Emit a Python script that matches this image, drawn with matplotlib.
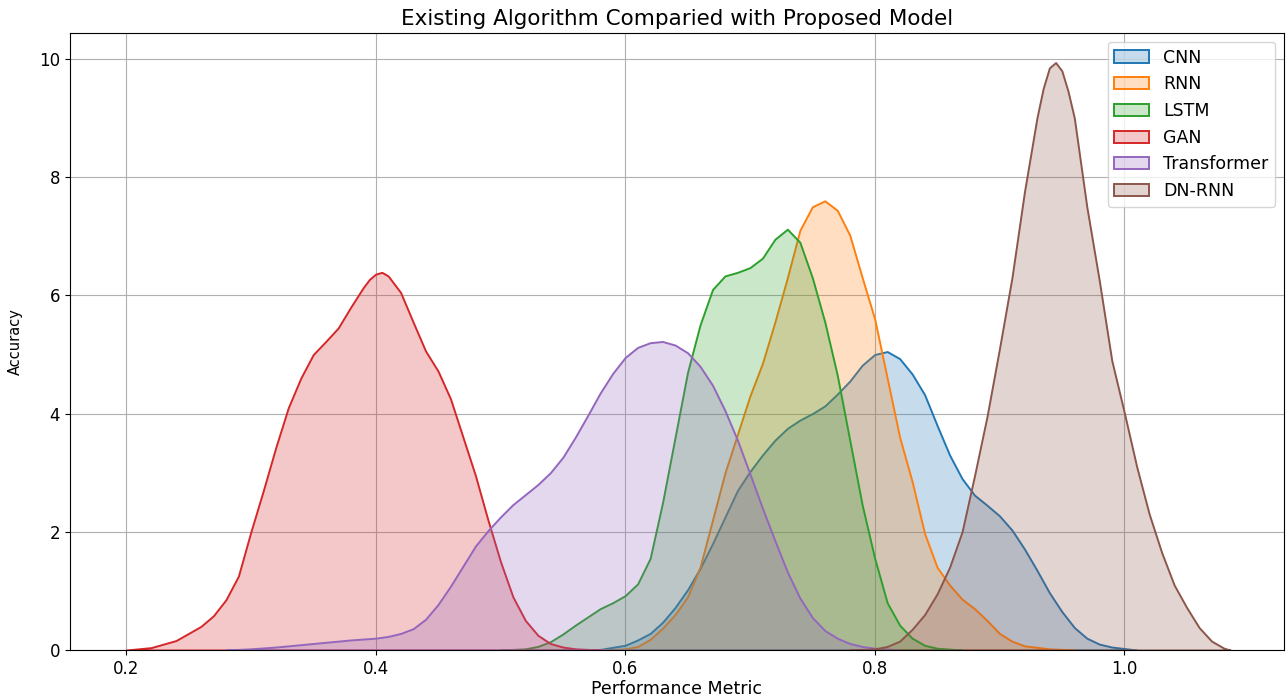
import matplotlib
matplotlib.use('Agg')
import matplotlib.pyplot as plt
from matplotlib.colors import to_rgba

# density curves (x = performance metric, y = density)
cnn_x = [0.56, 0.58, 0.60, 0.61, 0.62, 0.63, 0.64, 0.65, 0.66, 0.67, 0.68, 0.69, 0.70, 0.71, 0.72, 0.73,
         0.74, 0.75, 0.76, 0.77, 0.78, 0.79, 0.80, 0.81, 0.82, 0.83, 0.84, 0.85, 0.86, 0.87, 0.88, 0.89,
         0.90, 0.91, 0.92, 0.93, 0.94, 0.95, 0.96, 0.97, 0.98, 0.99, 1.01]
cnn_y = [0.0, 0.01, 0.08, 0.17, 0.28, 0.47, 0.72, 1.02, 1.38, 1.8, 2.25, 2.7, 3.02, 3.3, 3.55, 3.75,
         3.89, 4.0, 4.13, 4.33, 4.55, 4.82, 5.0, 5.05, 4.93, 4.67, 4.32, 3.8, 3.3, 2.9, 2.62, 2.45,
         2.27, 2.03, 1.71, 1.35, 0.97, 0.65, 0.38, 0.2, 0.1, 0.05, 0.0]

rnn_x = [0.58, 0.60, 0.61, 0.62, 0.63, 0.64, 0.65, 0.66, 0.67, 0.68, 0.69, 0.70, 0.71, 0.72, 0.73, 0.74,
         0.75, 0.76, 0.77, 0.78, 0.79, 0.80, 0.81, 0.82, 0.83, 0.84, 0.85, 0.86, 0.87, 0.88, 0.89, 0.90,
         0.91, 0.92, 0.94, 0.96]
rnn_y = [0.0, 0.02, 0.06, 0.18, 0.37, 0.6, 0.9, 1.4, 2.2, 3.0, 3.65, 4.3, 4.85, 5.55, 6.3, 7.1,
         7.5, 7.6, 7.44, 7.02, 6.3, 5.6, 4.6, 3.6, 2.85, 1.97, 1.4, 1.1, 0.86, 0.7, 0.5, 0.28,
         0.15, 0.07, 0.02, 0.0]

lstm_x = [0.50, 0.52, 0.53, 0.54, 0.55, 0.56, 0.57, 0.58, 0.59, 0.60, 0.61, 0.62, 0.63, 0.64, 0.65, 0.66,
          0.67, 0.68, 0.69, 0.70, 0.71, 0.72, 0.73, 0.74, 0.75, 0.76, 0.77, 0.78, 0.79, 0.80, 0.81, 0.82,
          0.83, 0.84, 0.85, 0.87]
lstm_y = [0.0, 0.02, 0.06, 0.14, 0.27, 0.42, 0.56, 0.7, 0.8, 0.92, 1.12, 1.55, 2.5, 3.6, 4.7, 5.5,
          6.1, 6.33, 6.39, 6.47, 6.63, 6.95, 7.12, 6.9, 6.3, 5.55, 4.65, 3.55, 2.45, 1.55, 0.8, 0.42,
          0.2, 0.08, 0.03, 0.0]

gan_x = [0.20, 0.22, 0.24, 0.26, 0.27, 0.28, 0.29, 0.30, 0.31, 0.32, 0.33, 0.34, 0.35, 0.36, 0.37, 0.38,
         0.39, 0.395, 0.40, 0.405, 0.41, 0.42, 0.43, 0.44, 0.45, 0.46, 0.47, 0.48, 0.49, 0.50, 0.51, 0.52,
         0.53, 0.54, 0.55, 0.56, 0.58]
gan_y = [0.0, 0.04, 0.16, 0.40, 0.58, 0.85, 1.25, 2.0, 2.7, 3.43, 4.1, 4.6, 5.0, 5.22, 5.45, 5.8,
         6.13, 6.27, 6.36, 6.39, 6.33, 6.05, 5.55, 5.06, 4.72, 4.25, 3.6, 2.95, 2.2, 1.5, 0.9, 0.5,
         0.25, 0.11, 0.05, 0.02, 0.0]

transformer_x = [0.28, 0.30, 0.32, 0.34, 0.36, 0.38, 0.40, 0.41, 0.42, 0.43, 0.44, 0.45, 0.46, 0.47, 0.48,
                 0.49, 0.50, 0.51, 0.52, 0.53, 0.54, 0.55, 0.56, 0.57, 0.58, 0.59, 0.60, 0.61, 0.62, 0.63,
                 0.64, 0.65, 0.66, 0.67, 0.68, 0.69, 0.70, 0.71, 0.72, 0.73, 0.74, 0.75, 0.76, 0.77, 0.78,
                 0.79, 0.80, 0.82]
transformer_y = [0.0, 0.02, 0.05, 0.09, 0.13, 0.17, 0.2, 0.23, 0.28, 0.36, 0.52, 0.77, 1.08, 1.42, 1.76,
                 2.02, 2.25, 2.46, 2.63, 2.8, 3.0, 3.26, 3.6, 3.97, 4.35, 4.68, 4.95, 5.12, 5.2, 5.22,
                 5.16, 5.03, 4.8, 4.48, 4.05, 3.55, 2.98, 2.4, 1.85, 1.32, 0.88, 0.55, 0.33, 0.2, 0.11,
                 0.06, 0.03, 0.0]

dnrnn_x = [0.78, 0.80, 0.81, 0.82, 0.83, 0.84, 0.85, 0.86, 0.87, 0.88, 0.89, 0.90, 0.91, 0.92, 0.93, 0.935,
           0.94, 0.945, 0.95, 0.955, 0.96, 0.97, 0.98, 0.99, 1.00, 1.01, 1.02, 1.03, 1.04, 1.05, 1.06, 1.07,
           1.08, 1.085]
dnrnn_y = [0.0, 0.02, 0.06, 0.15, 0.35, 0.6, 0.95, 1.4, 2.0, 2.95, 3.95, 5.1, 6.3, 7.75, 9.0, 9.5,
           9.85, 9.94, 9.8, 9.45, 9.0, 7.5, 6.25, 4.9, 4.02, 3.1, 2.3, 1.65, 1.1, 0.72, 0.38, 0.15,
           0.03, 0.0]

labels = ['CNN', 'RNN', 'LSTM', 'GAN', 'Transformer', 'DN-RNN']
xs = [cnn_x, rnn_x, lstm_x, gan_x, transformer_x, dnrnn_x]
ys = [cnn_y, rnn_y, lstm_y, gan_y, transformer_y, dnrnn_y]
colors = ['#1f77b4', '#ff7f0e', '#2ca02c', '#d62728', '#9467bd', '#8c564b']


def main():
    fig = plt.figure(figsize=(12.86, 6.96), dpi=100)
    ax = fig.add_axes([0.0544, 0.0661, 0.944, 0.8865])

    for x, y, c, name in zip(xs, ys, colors, labels):
        ax.fill_between(x, y, 0, facecolor=to_rgba(c, 0.25), edgecolor=c,
                        linewidth=1.4, joinstyle='round', label=name)

    ax.set_xlim(0.155, 1.128)
    ax.set_ylim(0, 10.44)
    ax.set_xticks([0.2, 0.4, 0.6, 0.8, 1.0])
    ax.set_yticks([0, 2, 4, 6, 8, 10])
    ax.tick_params(labelsize=12)
    ax.grid(True)
    ax.set_axisbelow(True)

    ax.set_title('Existing Algorithm Comparied with Proposed Model', fontsize=15.5)
    ax.set_xlabel('Performance Metric', fontsize=12.5, labelpad=2)
    ax.set_ylabel('Accuracy', fontsize=10.5, labelpad=12)
    ax.legend(loc='upper right', fontsize=12.5)

    fig.savefig('out.png', dpi=100)


if __name__ == '__main__':
    main()
